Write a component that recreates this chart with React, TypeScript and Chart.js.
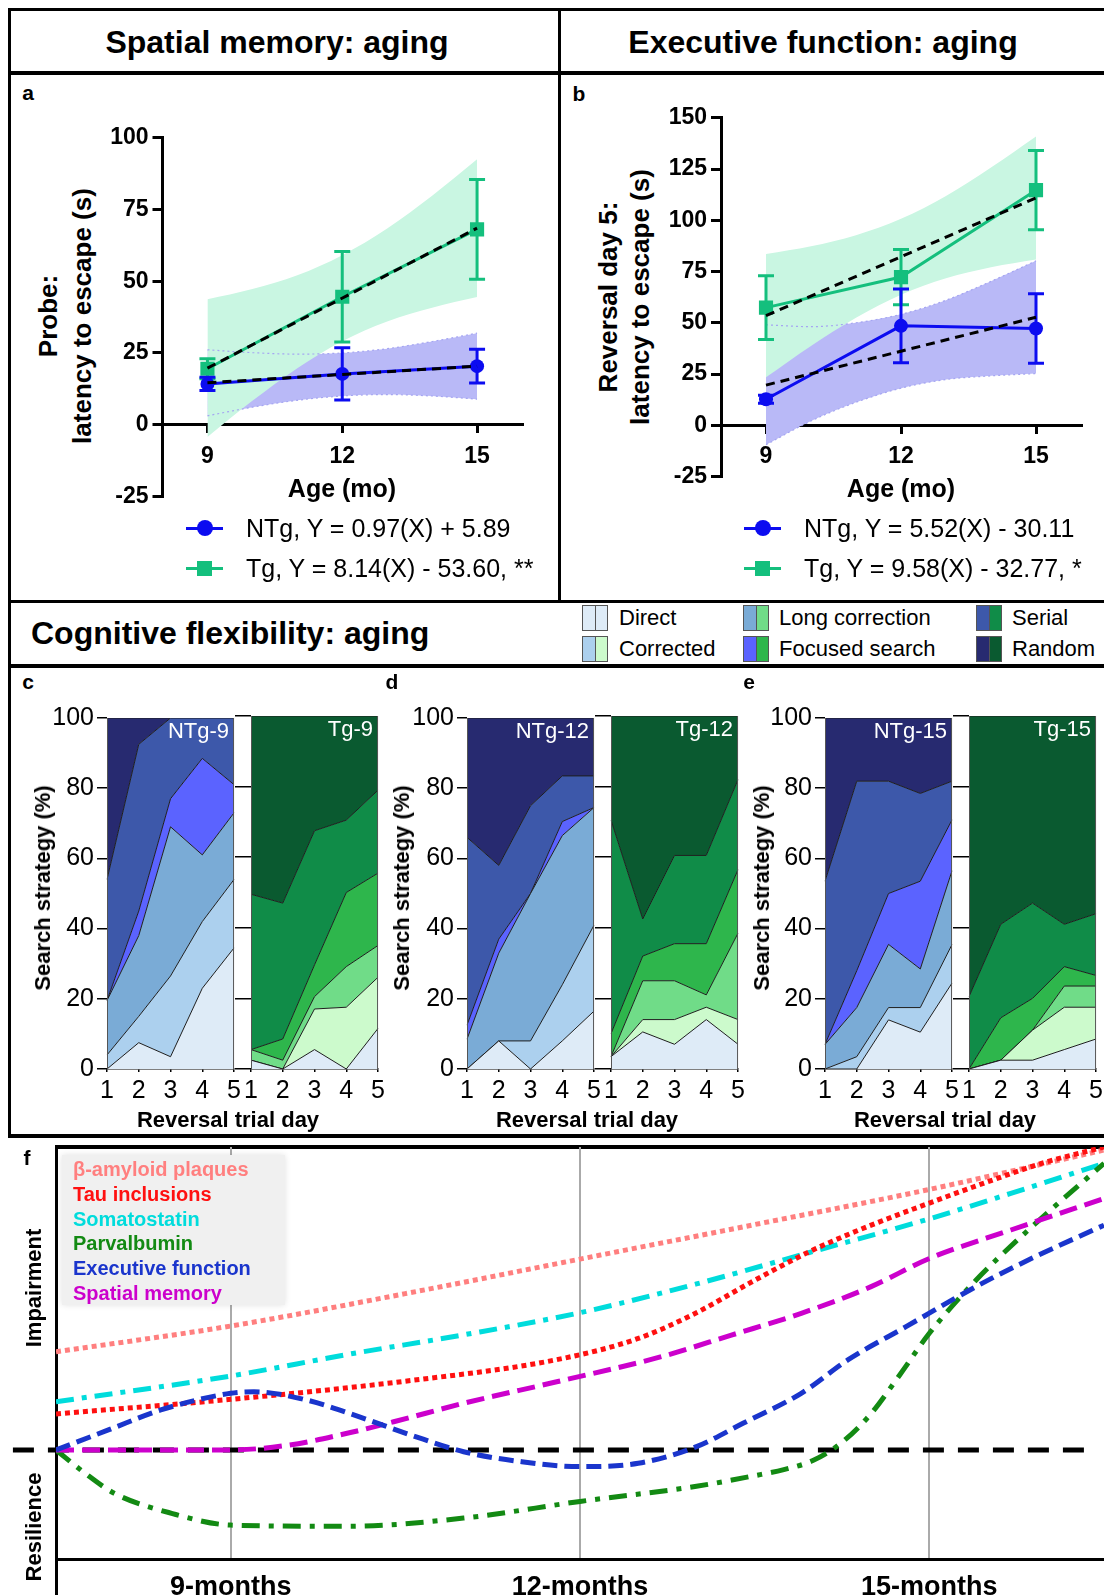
import React, { useEffect, useRef } from 'react';
import { Chart, registerables } from 'chart.js';

Chart.register(...registerables);

const FONT = "'Liberation Sans', Arial, Helvetica, sans-serif";
Chart.defaults.font.family = FONT;
Chart.defaults.color = '#000';

const BLUE = '#0c0cf0';
const GREEN = '#14bf7d';
const BLUE_BAND = '#b9b9f7';
const GREEN_BAND = '#c9f6e2';

// ---------- Panel a / b : regression data ----------
const ageMonths = [9, 12, 15];
const fitMonths = [9, 15];
const bandMonths = [9, 10, 11, 12, 13, 14, 15];

const aNtgMean = [14.2, 17.7, 20.4];
const aNtgErr = [2.3, 9.1, 5.9];
const aTgMean = [19.5, 44.6, 68.1];
const aTgErr = [3.5, 15.8, 17.4];
const aNtgFit = [14.6, 20.4];
const aTgFit = [19.7, 68.5];
const aNtgBandUpper = [26.1, 25.1, 24.6, 25.0, 26.5, 29.0, 31.9];
const aNtgBandLower = [3.1, 6.1, 8.5, 10.0, 10.5, 10.0, 8.9];
const aTgBandUpper = [43.7, 47.3, 52.1, 59.1, 68.4, 79.8, 92.5];
const aTgBandLower = [-4.3, 8.3, 19.7, 29.1, 36.0, 40.8, 44.5];

const bNtgMean = [12.7, 48.5, 47.2];
const bNtgErr = [2, 18, 17];
const bTgMean = [57.4, 72.3, 114.7];
const bTgErr = [15.6, 13.5, 19.3];
const bNtgFit = [19.6, 52.7];
const bTgFit = [53.5, 110.9];
const bNtgBandUpper = [49.0, 48.1, 50.0, 54.1, 61.0, 70.2, 80.2];
const bNtgBandLower = [-9.5, 2.1, 11.2, 18.1, 22.3, 24.1, 25.2];
const bTgBandUpper = [83.5, 87.3, 92.7, 100.7, 111.9, 125.7, 140.9];
const bTgBandLower = [23.4, 38.7, 52.5, 63.7, 71.7, 77.1, 80.9];

const aLegend = ['NTg, Y = 0.97(X) + 5.89', 'Tg, Y = 8.14(X) - 53.60, **'];
const bLegend = ['NTg, Y = 5.52(X) - 30.11', 'Tg, Y = 9.58(X) - 32.77, *'];

// ---------- Panels c-e : search strategy (%) ----------
const dayLabels = ['1', '2', '3', '4', '5'];
const strategyNames = ['Direct', 'Corrected', 'Long correction', 'Focused search', 'Serial', 'Random'];
const ntgColors = ['#deebf7', '#acd0ee', '#7aabd6', '#5b63ff', '#3d58aa', '#272a70'];
const tgColors = ['#deebf7', '#ccfacc', '#70dc88', '#2eb64c', '#108c48', '#0a5a30'];

// rows: Direct, Corrected, Long correction, Focused search, Serial, Random ; columns: day 1..5
const ntg9 = [
  [0, 7.5, 3.5, 23, 34.5],
  [4, 7.5, 23, 19, 19.5],
  [15.5, 23, 42.5, 19, 19],
  [0, 7, 8, 27.5, 8],
  [34.5, 47.5, 23, 11.5, 19],
  [46, 7.5, 0, 0, 0],
];
const tg9 = [
  [2.5, 0, 5.5, 0, 11.5],
  [0, 0, 11.5, 17.5, 14.5],
  [3, 2.5, 3.5, 11.5, 9],
  [0, 6, 9, 21, 20.5],
  [44, 38.5, 38, 20.5, 23.5],
  [50.5, 53, 32.5, 29.5, 21],
];
const ntg12 = [
  [0, 8, 0, 8, 16.5],
  [0, 0, 8, 16, 24.5],
  [8.5, 25, 42, 42.5, 33.5],
  [4, 4, 0, 4, 0],
  [53.5, 21, 25, 13, 9],
  [34, 42, 25, 16.5, 16.5],
];
const tg12 = [
  [3.5, 10.5, 7, 14, 7],
  [0, 3.5, 7, 3.5, 7],
  [0, 11, 11, 3.5, 24.5],
  [6.5, 7, 10.5, 14.5, 18],
  [60.5, 10.5, 25, 25, 25.5],
  [29.5, 57.5, 39.5, 39.5, 18],
];
const ntg15 = [
  [0, 0, 14, 10.5, 24.5],
  [0, 3.5, 3.5, 7, 11],
  [7, 14, 18, 11, 21],
  [0, 10.5, 14.5, 25, 14.5],
  [46.5, 54, 32, 25, 11],
  [46.5, 18, 18, 21.5, 18],
];
const tg15 = [
  [0, 2.5, 2.5, 5.5, 8.5],
  [0, 0, 8.5, 12, 9],
  [0, 0, 0, 6, 6],
  [0, 12, 9, 5.5, 3],
  [20.5, 26.5, 27, 12, 17.5],
  [79.5, 59, 53, 59, 56],
];

// ---------- Panel f : schematic timeline ----------
const fTickMonths = [9, 12, 15];
const fBaselineMonths = [7.13, 16.42];
const fBaseline = [0, 0];
const fMonthsAmyloid = [7.5, 9, 10.5, 12, 13.5, 15, 16.5];
const fAmyloid = [32.4, 40.9, 51.6, 63, 74.4, 86, 99];
const fMonthsTau = [7.5, 9, 10.5, 11.8, 12.5, 13, 13.5, 14, 14.5, 15, 15.5, 16, 16.5];
const fTau = [11.9, 16.7, 22.7, 29.8, 36.8, 45.3, 56, 66, 74.2, 81.5, 88.5, 95, 100];
const fMonthsSomatostatin = [7.5, 9, 10, 11, 12, 13, 14, 15, 15.7, 16.5];
const fSomatostatin = [15.9, 24.4, 31.5, 38, 45.3, 54.8, 65.5, 76.3, 84.7, 94.6];
const fMonthsParvalbumin = [7.5, 7.75, 8, 8.5, 9, 10, 11, 12, 13, 13.5, 13.75, 14, 14.25, 14.5, 14.75, 15, 15.4, 15.85, 16.5];
const fParvalbumin = [0, -7.7, -14.3, -21, -24.8, -25.2, -22.5, -17, -12, -8.5, -6.5, -3.5, 2.5, 12, 25, 38.5, 56, 72.6, 94.6];
const fMonthsExecutive = [7.5, 7.95, 8.4, 9, 9.2, 9.65, 10.1, 10.55, 11, 11.5, 12, 12.5, 13, 13.4, 13.9, 14.3, 14.8, 15.4, 15.85, 16.5];
const fExecutive = [0, 6.6, 13.2, 18.7, 19.2, 16.5, 11, 4.9, -0.6, -3.9, -5.5, -4.4, 1.1, 8.8, 18.7, 29.7, 40.7, 53.9, 62.7, 74.2];
const fMonthsSpatial = [7.5, 9, 9.5, 10, 10.4, 11, 11.8, 12.7, 13.3, 13.9, 14.5, 15, 15.7, 16.5];
const fSpatial = [0, 0, 1.6, 5.5, 9.3, 15.4, 22.5, 30.8, 37.9, 45.1, 53.9, 63.2, 72.6, 83];

const fNames = ['β-amyloid plaques', 'Tau inclusions', 'Somatostatin', 'Parvalbumin', 'Executive function', 'Spatial memory'];
const fColors = ['#ff7f7f', '#ff1010', '#00dcdc', '#138a13', '#1a35cc', '#cc00cc'];
const fMonths = [fMonthsAmyloid, fMonthsTau, fMonthsSomatostatin, fMonthsParvalbumin, fMonthsExecutive, fMonthsSpatial];
const fValues = [fAmyloid, fTau, fSomatostatin, fParvalbumin, fExecutive, fSpatial];
const fDashes = [[5, 4], [5, 4], [18, 8, 5, 8], [18, 9, 5, 9], [15, 7], [18, 8]];
const fOrders = [9, 7, 8, 6, 4, 5];

// ---------- plugins ----------
const errorBarPlugin = {
  id: 'errorBars',
  beforeDatasetDraw(chart: any, args: any) {
    const ds = chart.data.datasets[args.index];
    if (!ds || !ds.errors) return;
    const xs = chart.scales.x;
    const ys = chart.scales.y;
    const ctx = chart.ctx;
    ctx.save();
    ctx.strokeStyle = ds.borderColor;
    ctx.lineWidth = 3;
    ds.data.forEach((p: any, i: number) => {
      const e = ds.errors[i];
      const px = xs.getPixelForValue(p.x);
      const top = ys.getPixelForValue(p.y + e);
      const bot = ys.getPixelForValue(p.y - e);
      ctx.beginPath();
      ctx.moveTo(px, top);
      ctx.lineTo(px, bot);
      ctx.moveTo(px - 8, top);
      ctx.lineTo(px + 8, top);
      ctx.moveTo(px - 8, bot);
      ctx.lineTo(px + 8, bot);
      ctx.stroke();
    });
    ctx.restore();
  },
};

const cornerLabelPlugin = {
  id: 'cornerLabel',
  afterDatasetsDraw(chart: any, _args: any, opts: any) {
    if (!opts || !opts.text) return;
    const { ctx, chartArea } = chart;
    ctx.save();
    ctx.fillStyle = '#ffffff';
    ctx.font = `22px ${FONT}`;
    ctx.textAlign = 'right';
    ctx.textBaseline = 'top';
    ctx.fillText(opts.text, chartArea.right - 5, chartArea.top + 3);
    ctx.restore();
  },
};

const plotEdgePlugin = {
  id: 'plotEdges',
  afterDatasetsDraw(chart: any) {
    const { ctx, chartArea: a } = chart;
    ctx.save();
    ctx.strokeStyle = '#555';
    ctx.lineWidth = 1;
    ctx.beginPath();
    ctx.moveTo(a.left + 0.5, a.top);
    ctx.lineTo(a.left + 0.5, a.bottom);
    ctx.moveTo(a.right - 0.5, a.top);
    ctx.lineTo(a.right - 0.5, a.bottom);
    ctx.stroke();
    ctx.restore();
  },
};

const pts = (xs: number[], ys: number[]) => xs.map((x, i) => ({ x, y: ys[i] }));

type RegParams = {
  ntgMean: number[]; ntgErr: number[]; tgMean: number[]; tgErr: number[];
  ntgFit: number[]; tgFit: number[];
  ntgUp: number[]; ntgLo: number[]; tgUp: number[]; tgLo: number[];
  yMin: number; yMax: number; yWidth: number;
  pad: { left: number; right: number; top: number; bottom: number };
};

function regressionConfig(p: RegParams) {
  const bandCommon = {
    pointRadius: 0, borderWidth: 0, borderColor: 'rgba(0,0,0,0)',
    cubicInterpolationMode: 'monotone',
  };
  const datasets: any[] = [
    { label: 'NTg fit', data: pts(fitMonths, p.ntgFit), borderColor: '#000', borderWidth: 3, borderDash: [9, 6], pointRadius: 0, fill: false, order: 1 },
    { label: 'Tg fit', data: pts(fitMonths, p.tgFit), borderColor: '#000', borderWidth: 3, borderDash: [9, 6], pointRadius: 0, fill: false, order: 1 },
    { label: 'NTg', data: pts(ageMonths, p.ntgMean), errors: p.ntgErr, borderColor: BLUE, backgroundColor: BLUE, borderWidth: 3, pointRadius: 7, pointStyle: 'circle', pointBorderWidth: 0, fill: false, order: 2 },
    { label: 'Tg', data: pts(ageMonths, p.tgMean), errors: p.tgErr, borderColor: GREEN, backgroundColor: GREEN, borderWidth: 3, pointRadius: 10, pointStyle: 'rect', pointBorderWidth: 0, fill: false, order: 2 },
    { label: 'NTg CI edge (upper)', data: pts(bandMonths, p.ntgUp), borderColor: '#a5a5f2', borderWidth: 1.2, borderDash: [2, 3], pointRadius: 0, fill: false, cubicInterpolationMode: 'monotone', order: 3 },
    { label: 'NTg CI edge (lower)', data: pts(bandMonths, p.ntgLo), borderColor: '#a5a5f2', borderWidth: 1.2, borderDash: [2, 3], pointRadius: 0, fill: false, cubicInterpolationMode: 'monotone', order: 3 },
    { label: 'Tg CI lower', data: pts(bandMonths, p.tgLo), fill: false, order: 4, ...bandCommon },
    { label: 'Tg CI upper', data: pts(bandMonths, p.tgUp), fill: { target: 6 }, backgroundColor: GREEN_BAND, order: 4, ...bandCommon },
    { label: 'NTg CI lower', data: pts(bandMonths, p.ntgLo), fill: false, order: 5, ...bandCommon },
    { label: 'NTg CI upper', data: pts(bandMonths, p.ntgUp), fill: { target: 8 }, backgroundColor: BLUE_BAND, order: 5, ...bandCommon },
  ];
  return {
    type: 'line',
    data: { datasets },
    options: {
      responsive: false,
      animation: false,
      devicePixelRatio: 1,
      layout: { padding: p.pad },
      plugins: { legend: { display: false }, tooltip: { enabled: false } },
      scales: {
        x: {
          type: 'linear', min: 8, max: 16, position: { y: 0 }, z: 1,
          afterBuildTicks: (s: any) => { s.ticks = ageMonths.map((v) => ({ value: v })); },
          ticks: { color: '#000', font: { family: FONT, size: 23, weight: 'bold' }, padding: 11, autoSkip: false, maxRotation: 0 },
          grid: { drawOnChartArea: false, tickLength: 7, color: '#000', lineWidth: 3 },
          border: { display: true, color: '#000', width: 3 },
        },
        y: {
          type: 'linear', min: p.yMin, max: p.yMax, z: 1,
          ticks: { stepSize: 25, color: '#000', font: { family: FONT, size: 23, weight: 'bold' }, padding: 4 },
          grid: { drawOnChartArea: false, tickLength: 10, color: '#000', lineWidth: 3 },
          border: { display: true, color: '#000', width: 3 },
          afterFit: (s: any) => { s.width = p.yWidth; },
        },
      },
    },
    plugins: [errorBarPlugin],
  };
}

function strategyConfig(group: number[][], colors: string[], title: string, showY: boolean, yWidth: number) {
  return {
    type: 'line',
    data: {
      labels: dayLabels,
      datasets: strategyNames.map((name, i) => ({
        label: name,
        data: group[i],
        backgroundColor: colors[i],
        borderColor: '#1e1e1e',
        borderWidth: 1,
        fill: i === 0 ? 'origin' : '-1',
        pointRadius: 0,
        tension: 0,
      })),
    },
    options: {
      responsive: false,
      animation: false,
      devicePixelRatio: 1,
      layout: { padding: { left: 0, right: 10, top: 16, bottom: 0 } },
      plugins: { legend: { display: false }, tooltip: { enabled: false }, cornerLabel: { text: title } },
      scales: {
        x: {
          type: 'category', offset: false, z: 1,
          ticks: { color: '#000', font: { family: FONT, size: 25 }, padding: 4, autoSkip: false, maxRotation: 0 },
          grid: { drawOnChartArea: false, tickLength: 3, color: '#000', lineWidth: 1.5, offset: false },
          border: { display: true, color: '#000', width: 1.5 },
          afterFit: (s: any) => { s.height = 41; },
        },
        y: {
          stacked: true, min: 0, max: 100, z: 1,
          ticks: { stepSize: 20, display: showY, color: '#000', font: { family: FONT, size: 25 }, padding: 3 },
          grid: { drawOnChartArea: false, tickLength: showY ? 10 : yWidth, color: '#000', lineWidth: 1.5 },
          border: { display: false },
          afterFit: (s: any) => { s.width = yWidth; },
        },
      },
    },
    plugins: [cornerLabelPlugin, plotEdgePlugin],
  };
}

function timelineConfig() {
  const datasets: any[] = fNames.map((name, i) => ({
    label: name,
    data: pts(fMonths[i], fValues[i]),
    borderColor: fColors[i],
    borderWidth: 5,
    borderDash: fDashes[i],
    pointRadius: 0,
    fill: false,
    cubicInterpolationMode: 'monotone',
    order: fOrders[i],
  }));
  datasets.push({
    label: 'Baseline',
    data: pts(fBaselineMonths, fBaseline),
    borderColor: '#000',
    borderWidth: 5,
    borderDash: [21, 14],
    pointRadius: 0,
    fill: false,
    clip: false,
    order: 20,
  });
  return {
    type: 'line',
    data: { datasets },
    options: {
      responsive: false,
      animation: false,
      devicePixelRatio: 1,
      layout: { padding: { left: 0, right: 0, top: 7, bottom: 0 } },
      plugins: { legend: { display: false }, tooltip: { enabled: false } },
      scales: {
        x: {
          type: 'linear', min: 7.5, max: 16.5,
          afterBuildTicks: (s: any) => { s.ticks = fTickMonths.map((v) => ({ value: v })); },
          ticks: { color: '#000', font: { family: FONT, size: 27, weight: 'bold' }, padding: 12, autoSkip: false, maxRotation: 0, callback: (v: any) => `${v}-months` },
          grid: { drawOnChartArea: true, drawTicks: false, color: '#aaaaaa', lineWidth: 2 },
          border: { display: true, color: '#000', width: 3 },
          afterFit: (s: any) => { s.height = 36; },
        },
        y: {
          type: 'linear', min: -36, max: 100,
          ticks: { display: false },
          grid: { display: false },
          border: { display: true, color: '#000', width: 3 },
          afterFit: (s: any) => { s.width = 56; },
        },
      },
    },
  };
}

// ---------- React helpers ----------
function ChartCanvas({ left, top, width, height, make }: { left: number; top: number; width: number; height: number; make: () => any }) {
  const ref = useRef<HTMLCanvasElement | null>(null);
  useEffect(() => {
    if (!ref.current) return;
    const chart = new Chart(ref.current, make());
    return () => chart.destroy();
  }, []);
  return (
    <canvas
      ref={ref}
      width={width}
      height={height}
      style={{ position: 'absolute', left, top, width, height, display: 'block' }}
    />
  );
}

function T({ x, y, size = 22, bold = false, color = '#000', anchor = 'middle', rotate = false, children }: any) {
  const tx = anchor === 'middle' ? '-50%' : anchor === 'end' ? '-100%' : '0';
  return (
    <div
      style={{
        position: 'absolute', left: x, top: y,
        transform: `translate(${tx}, -50%)${rotate ? ' rotate(-90deg)' : ''}`,
        fontSize: size, fontWeight: bold ? 700 : 400, color, whiteSpace: 'nowrap',
        lineHeight: 1, fontFamily: FONT,
      }}
    >
      {children}
    </div>
  );
}

function Box({ x, y, w, h, bg = '#000' }: any) {
  return <div style={{ position: 'absolute', left: x, top: y, width: w, height: h, background: bg }} />;
}

function LegendItem({ x1, x2, y, color, square, textX, text }: any) {
  const cx = (x1 + x2) / 2;
  const s = square ? 15 : 16;
  return (
    <>
      <Box x={x1} y={y - 1.5} w={x2 - x1} h={3} bg={color} />
      <div style={{ position: 'absolute', left: cx - s / 2, top: y - s / 2, width: s, height: s, background: color, borderRadius: square ? 0 : '50%' }} />
      <T x={textX} y={y} size={25} anchor="start">{text}</T>
    </>
  );
}

function Swatch({ x, y, left, right }: any) {
  return (
    <div style={{ position: 'absolute', left: x, top: y, width: 26, height: 26, border: '1px solid #555', boxSizing: 'border-box', display: 'flex' }}>
      <div style={{ flex: 1, background: left, borderRight: '1px solid #555' }} />
      <div style={{ flex: 1, background: right }} />
    </div>
  );
}

const cogPanels = [
  { letter: 'c', letterX: 28, ntgLeft: 107, ntg: ntg9, tg: tg9, ntgTitle: 'NTg-9', tgTitle: 'Tg-9', yTitleX: 43, xTitleX: 228 },
  { letter: 'd', letterX: 392, ntgLeft: 467, ntg: ntg12, tg: tg12, ntgTitle: 'NTg-12', tgTitle: 'Tg-12', yTitleX: 402, xTitleX: 587 },
  { letter: 'e', letterX: 749, ntgLeft: 824.5, ntg: ntg15, tg: tg15, ntgTitle: 'NTg-15', tgTitle: 'Tg-15', yTitleX: 762, xTitleX: 945 },
];

export default function App() {
  useEffect(() => {
    document.body.style.margin = '0';
    document.documentElement.style.overflow = 'hidden';
    document.body.style.overflow = 'hidden';
  }, []);

  const legendRows = [
    { x: 582, y: 605, i: 0, tx: 619 },
    { x: 582, y: 636, i: 1, tx: 619 },
    { x: 743, y: 605, i: 2, tx: 779 },
    { x: 743, y: 636, i: 3, tx: 779 },
    { x: 976, y: 605, i: 4, tx: 1012 },
    { x: 976, y: 636, i: 5, tx: 1012 },
  ];

  return (
    <div style={{ position: 'absolute', left: 0, top: 0, width: 1104, height: 1595, overflow: 'hidden', background: '#fff', fontFamily: FONT }}>
      {/* frame lines */}
      <Box x={8} y={8} w={1096} h={3} />
      <Box x={8} y={8} w={3} h={1130} />
      <Box x={8} y={71} w={1096} h={4} />
      <Box x={557.5} y={8} w={3} h={594} />
      <Box x={8} y={600} w={1096} h={3} />
      <Box x={8} y={664} w={1096} h={3.5} />
      <Box x={8} y={1134} w={1096} h={4} />
      <Box x={54.5} y={1145} w={1050} h={4} />
      <Box x={54.5} y={1555} w={3} h={40} />

      {/* headers */}
      <T x={277} y={42} size={32} bold>Spatial memory: aging</T>
      <T x={823} y={42} size={32} bold>Executive function: aging</T>
      <T x={31} y={633} size={32} bold anchor="start">Cognitive flexibility: aging</T>

      {/* panel a */}
      <T x={28} y={92} size={21} bold>a</T>
      <ChartCanvas
        left={100} top={120} width={440} height={400}
        make={() => regressionConfig({
          ntgMean: aNtgMean, ntgErr: aNtgErr, tgMean: aTgMean, tgErr: aTgErr,
          ntgFit: aNtgFit, tgFit: aTgFit,
          ntgUp: aNtgBandUpper, ntgLo: aNtgBandLower, tgUp: aTgBandUpper, tgLo: aTgBandLower,
          yMin: -25, yMax: 100, yWidth: 62.5,
          pad: { left: 0, right: 18, top: 16.6, bottom: 23.6 },
        })}
      />
      <T x={48} y={316} size={26} bold rotate>Probe:</T>
      <T x={82} y={316} size={26} bold rotate>latency to escape (s)</T>
      <T x={342} y={488} size={25} bold>Age (mo)</T>
      <LegendItem x1={186} x2={223} y={528} color={BLUE} textX={246} text={aLegend[0]} />
      <LegendItem x1={186} x2={223} y={568} color={GREEN} square textX={246} text={aLegend[1]} />

      {/* panel b */}
      <T x={579} y={93} size={21} bold>b</T>
      <ChartCanvas
        left={660} top={100} width={440} height={400}
        make={() => regressionConfig({
          ntgMean: bNtgMean, ntgErr: bNtgErr, tgMean: bTgMean, tgErr: bTgErr,
          ntgFit: bNtgFit, tgFit: bTgFit,
          ntgUp: bNtgBandUpper, ntgLo: bNtgBandLower, tgUp: bTgBandUpper, tgLo: bTgBandLower,
          yMin: -25, yMax: 150, yWidth: 61,
          pad: { left: 0, right: 19, top: 16.7, bottom: 23.5 },
        })}
      />
      <T x={608} y={297} size={26} bold rotate>Reversal day 5:</T>
      <T x={640} y={297} size={26} bold rotate>latency to escape (s)</T>
      <T x={901} y={488} size={25} bold>Age (mo)</T>
      <LegendItem x1={744} x2={781} y={528} color={BLUE} textX={804} text={bLegend[0]} />
      <LegendItem x1={744} x2={781} y={568} color={GREEN} square textX={804} text={bLegend[1]} />

      {/* strategy legend */}
      {legendRows.map((r) => (
        <React.Fragment key={strategyNames[r.i]}>
          <Swatch x={r.x} y={r.y} left={ntgColors[r.i]} right={tgColors[r.i]} />
          <T x={r.tx} y={r.y + 13} size={22} anchor="start">{strategyNames[r.i]}</T>
        </React.Fragment>
      ))}

      {/* panels c-e */}
      {cogPanels.map((p) => (
        <React.Fragment key={p.letter}>
          <T x={p.letterX} y={681} size={21} bold>{p.letter}</T>
          <ChartCanvas
            left={p.ntgLeft - 60} top={700} width={198} height={410}
            make={() => strategyConfig(p.ntg, ntgColors, p.ntgTitle, true, 60)}
          />
          <ChartCanvas
            left={p.ntgLeft + 128} top={700} width={154} height={410}
            make={() => strategyConfig(p.tg, tgColors, p.tgTitle, false, 16)}
          />
          <T x={p.yTitleX} y={888} size={22} bold rotate>Search strategy (%)</T>
          <T x={p.xTitleX} y={1120} size={22} bold>Reversal trial day</T>
        </React.Fragment>
      ))}

      {/* panel f */}
      <ChartCanvas left={0} top={1140} width={1104} height={455} make={timelineConfig} />
      <T x={27} y={1157} size={21} bold>f</T>
      <T x={34} y={1288} size={22} bold rotate>Impairment</T>
      <T x={34} y={1527} size={22} bold rotate>Resilience</T>
      <div style={{ position: 'absolute', left: 62, top: 1155, width: 223, height: 150, background: '#f0f0f0', boxShadow: '0 0 6px rgba(0,0,0,0.12)' }} />
      {fNames.map((n, i) => (
        <T key={n} x={73} y={1169 + i * 24.8} size={20} bold color={fColors[i]} anchor="start">{n}</T>
      ))}
    </div>
  );
}
